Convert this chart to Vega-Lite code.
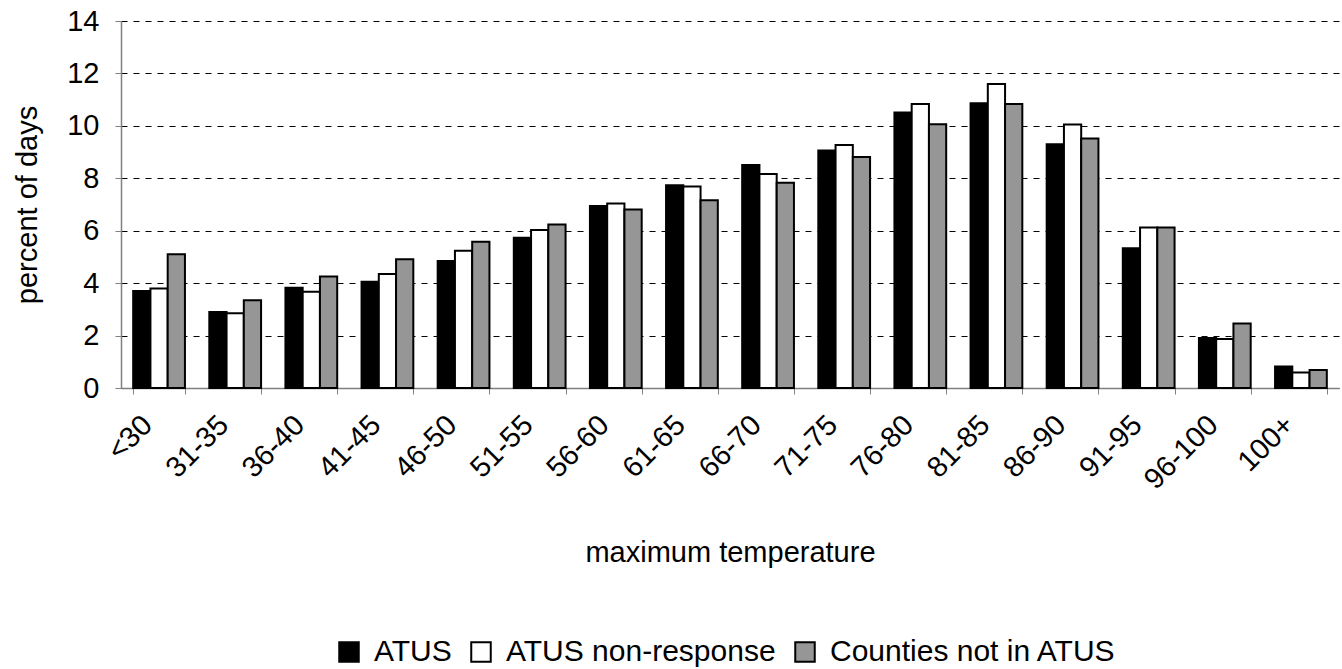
{
  "$schema": "https://vega.github.io/schema/vega-lite/v6.json",
  "width": 1218,
  "height": 367,
  "autosize": {"type": "none"},
  "padding": {"left": 121, "top": 21, "right": 3, "bottom": 281},
  "background": "white",
  "config": {
    "font": "Liberation Sans",
    "view": {"stroke": null}
  },
  "data": {
    "values": [
      {"temp": "<30", "series": "ATUS", "pct": 3.7},
      {"temp": "<30", "series": "ATUS non-response", "pct": 3.8},
      {"temp": "<30", "series": "Counties not in ATUS", "pct": 5.1},
      {"temp": "31-35", "series": "ATUS", "pct": 2.9},
      {"temp": "31-35", "series": "ATUS non-response", "pct": 2.85},
      {"temp": "31-35", "series": "Counties not in ATUS", "pct": 3.35},
      {"temp": "36-40", "series": "ATUS", "pct": 3.82},
      {"temp": "36-40", "series": "ATUS non-response", "pct": 3.67},
      {"temp": "36-40", "series": "Counties not in ATUS", "pct": 4.25},
      {"temp": "41-45", "series": "ATUS", "pct": 4.05},
      {"temp": "41-45", "series": "ATUS non-response", "pct": 4.35},
      {"temp": "41-45", "series": "Counties not in ATUS", "pct": 4.91},
      {"temp": "46-50", "series": "ATUS", "pct": 4.84},
      {"temp": "46-50", "series": "ATUS non-response", "pct": 5.24},
      {"temp": "46-50", "series": "Counties not in ATUS", "pct": 5.58},
      {"temp": "51-55", "series": "ATUS", "pct": 5.73},
      {"temp": "51-55", "series": "ATUS non-response", "pct": 6.03},
      {"temp": "51-55", "series": "Counties not in ATUS", "pct": 6.24},
      {"temp": "56-60", "series": "ATUS", "pct": 6.94},
      {"temp": "56-60", "series": "ATUS non-response", "pct": 7.04},
      {"temp": "56-60", "series": "Counties not in ATUS", "pct": 6.81},
      {"temp": "61-65", "series": "ATUS", "pct": 7.73},
      {"temp": "61-65", "series": "ATUS non-response", "pct": 7.69},
      {"temp": "61-65", "series": "Counties not in ATUS", "pct": 7.16},
      {"temp": "66-70", "series": "ATUS", "pct": 8.51},
      {"temp": "66-70", "series": "ATUS non-response", "pct": 8.16},
      {"temp": "66-70", "series": "Counties not in ATUS", "pct": 7.83},
      {"temp": "71-75", "series": "ATUS", "pct": 9.06},
      {"temp": "71-75", "series": "ATUS non-response", "pct": 9.27},
      {"temp": "71-75", "series": "Counties not in ATUS", "pct": 8.81},
      {"temp": "76-80", "series": "ATUS", "pct": 10.51},
      {"temp": "76-80", "series": "ATUS non-response", "pct": 10.83},
      {"temp": "76-80", "series": "Counties not in ATUS", "pct": 10.06},
      {"temp": "81-85", "series": "ATUS", "pct": 10.86},
      {"temp": "81-85", "series": "ATUS non-response", "pct": 11.6},
      {"temp": "81-85", "series": "Counties not in ATUS", "pct": 10.83},
      {"temp": "86-90", "series": "ATUS", "pct": 9.3},
      {"temp": "86-90", "series": "ATUS non-response", "pct": 10.05},
      {"temp": "86-90", "series": "Counties not in ATUS", "pct": 9.52},
      {"temp": "91-95", "series": "ATUS", "pct": 5.33},
      {"temp": "91-95", "series": "ATUS non-response", "pct": 6.12},
      {"temp": "91-95", "series": "Counties not in ATUS", "pct": 6.12},
      {"temp": "96-100", "series": "ATUS", "pct": 1.91},
      {"temp": "96-100", "series": "ATUS non-response", "pct": 1.87},
      {"temp": "96-100", "series": "Counties not in ATUS", "pct": 2.46},
      {"temp": "100+", "series": "ATUS", "pct": 0.82},
      {"temp": "100+", "series": "ATUS non-response", "pct": 0.59},
      {"temp": "100+", "series": "Counties not in ATUS", "pct": 0.69}
    ]
  },
  "mark": {"type": "bar", "stroke": "black", "strokeWidth": 2, "strokeJoin": "miter"},
  "encoding": {
    "x": {
      "field": "temp",
      "type": "nominal",
      "sort": null,
      "scale": {"paddingInner": 0.32, "paddingOuter": 0.16},
      "axis": {
        "title": "maximum temperature",
        "titleFontSize": 29,
        "titleFontWeight": "normal",
        "titleColor": "black",
        "titlePadding": 44,
        "labelAngle": -45,
        "labelAlign": "right",
        "labelBaseline": "middle",
        "labelFontSize": 29,
        "labelColor": "black",
        "labelPadding": 26,
        "labelOffset": -12,
        "labelOverlap": false,
        "tickBand": "extent",
        "tickSize": 6,
        "tickColor": "#808080",
        "domainColor": "#808080",
        "domainWidth": 1.5,
        "grid": false
      }
    },
    "xOffset": {
      "field": "series",
      "type": "nominal",
      "sort": ["ATUS", "ATUS non-response", "Counties not in ATUS"]
    },
    "y": {
      "field": "pct",
      "type": "quantitative",
      "scale": {"domain": [0, 14], "nice": false},
      "axis": {
        "title": "percent of days",
        "titleFontSize": 29,
        "titleFontWeight": "normal",
        "titleColor": "black",
        "titlePadding": 24,
        "values": [0, 2, 4, 6, 8, 10, 12, 14],
        "labelFontSize": 29,
        "labelColor": "black",
        "labelPadding": 16,
        "tickSize": 6,
        "tickColor": "#808080",
        "domainColor": "#808080",
        "domainWidth": 1.5,
        "grid": true,
        "gridColor": "black",
        "gridDash": [6, 6],
        "gridWidth": 1
      }
    },
    "fill": {
      "field": "series",
      "type": "nominal",
      "sort": ["ATUS", "ATUS non-response", "Counties not in ATUS"],
      "scale": {
        "domain": ["ATUS", "ATUS non-response", "Counties not in ATUS"],
        "range": ["black", "white", "#969696"]
      },
      "legend": {
        "title": null,
        "orient": "none",
        "direction": "horizontal",
        "legendX": 213,
        "legendY": 616,
        "symbolType": "square",
        "symbolSize": 380,
        "symbolStrokeColor": "black",
        "symbolStrokeWidth": 2,
        "symbolOpacity": 1,
        "labelFontSize": 30,
        "labelColor": "black",
        "labelOffset": 10,
        "labelLimit": 600,
        "columnPadding": 14,
        "symbolOffset": 0
      }
    }
  }
}
